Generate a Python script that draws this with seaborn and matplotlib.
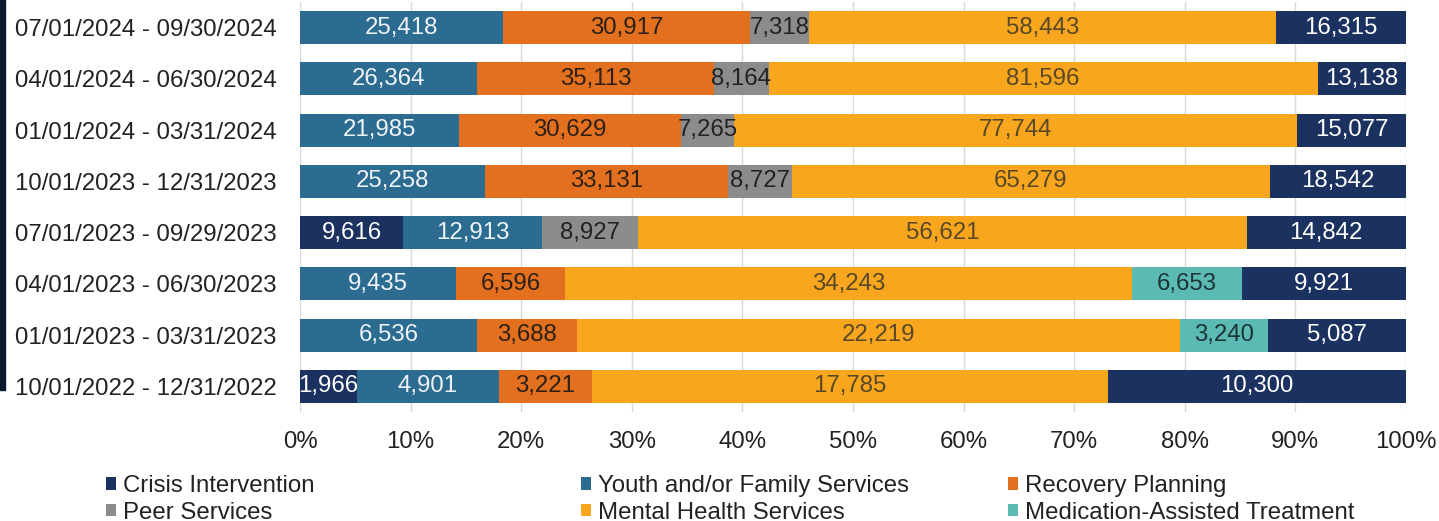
import numpy as np
import pandas as pd
import matplotlib
matplotlib.use("Agg")
import matplotlib.pyplot as plt
import seaborn as sns
from matplotlib.patches import Patch, Rectangle

# ---------------- data ----------------
periods = [
    "07/01/2024 - 09/30/2024",
    "04/01/2024 - 06/30/2024",
    "01/01/2024 - 03/31/2024",
    "10/01/2023 - 12/31/2023",
    "07/01/2023 - 09/29/2023",
    "04/01/2023 - 06/30/2023",
    "01/01/2023 - 03/31/2023",
    "10/01/2022 - 12/31/2022",
]
crisis_intervention = [0, 0, 0, 0, 9616, 0, 0, 1966]
youth_family = [25418, 26364, 21985, 25258, 12913, 9435, 6536, 4901]
recovery_planning = [30917, 35113, 30629, 33131, 0, 6596, 3688, 3221]
peer_services = [7318, 8164, 7265, 8727, 8927, 0, 0, 0]
mental_health = [58443, 81596, 77744, 65279, 56621, 34243, 22219, 17785]
mat_treatment = [0, 0, 0, 0, 0, 6653, 3240, 0]
other_services = [16315, 13138, 15077, 18542, 14842, 9921, 5087, 10300]

series_names = [
    "Crisis Intervention",
    "Youth and/or Family Services",
    "Recovery Planning",
    "Peer Services",
    "Mental Health Services",
    "Medication-Assisted Treatment",
    "Other",
]
tick_values = list(range(0, 101, 10))

# ---------------- styles ----------------
colors = ["#1b3160", "#2c6c90", "#e2701f", "#8c8c8c", "#f8a61e", "#5cbab5", "#1b3160"]
text_colors = ["#ffffff", "#eef3f7", "#2e2015", "#222222", "#5a4826", "#1d3434", "#ffffff"]
FS = 17.3

sns.set_theme(style="white")
plt.rcParams["font.family"] = ["Liberation Sans", "DejaVu Sans"]

df = pd.DataFrame({
    "period": periods,
    series_names[0]: crisis_intervention,
    series_names[1]: youth_family,
    series_names[2]: recovery_planning,
    series_names[3]: peer_services,
    series_names[4]: mental_health,
    series_names[5]: mat_treatment,
    series_names[6]: other_services,
})
vals = df[series_names].to_numpy(float)
totals = vals.sum(axis=1)
pct = vals / totals[:, None] * 100
cum = pct.cumsum(axis=1)

W, H = 1439, 521
fig = plt.figure(figsize=(W / 100, H / 100), dpi=100)
ax = fig.add_axes([300 / W, 1 - 412 / H, 1106 / W, 410 / H])

for k in reversed(range(len(series_names))):
    sns.barplot(x=cum[:, k], y=periods, order=periods, orient="h",
                color=colors[k], width=0.64, saturation=1, linewidth=0, ax=ax)

for i in range(len(periods)):
    for k in range(len(series_names)):
        v = vals[i, k]
        if v <= 0:
            continue
        cx = cum[i, k] - pct[i, k] / 2
        ax.text(cx, i, f"{int(v):,}", ha="center", va="center", fontsize=FS,
                color=text_colors[k], clip_on=True)

ax.set_xlim(0, 100)
ax.set_xticks(tick_values)
ax.set_xticklabels([f"{t}%" for t in tick_values], fontsize=FS, color="#222222")
ax.tick_params(axis="x", length=0, pad=14)
ax.tick_params(axis="y", length=0, pad=17, labelsize=FS, labelcolor="#222222")
ax.set_xlabel("")
ax.set_ylabel("")
for s in ax.spines.values():
    s.set_visible(False)
ax.set_axisbelow(True)
ax.xaxis.grid(True, color="#d9d9d9", linewidth=1)
ax.yaxis.grid(False)

# legends (three columns)
handles = [Patch(facecolor=colors[k], edgecolor="none") for k in range(6)]
col_groups = [(0, 3), (1, 4), (2, 5)]
col_x = [106, 581, 1008]
for (a, b), x in zip(col_groups, col_x):
    fig.legend([handles[a], handles[b]], [series_names[a], series_names[b]],
               loc="upper left", bbox_to_anchor=(x / W, 1 - 475 / H),
               frameon=False, fontsize=FS, handlelength=0.42, handleheight=0.42,
               handletextpad=0.3, labelspacing=0.2, borderpad=0, borderaxespad=0,
               labelcolor="#222222")

# dark left-edge stripe seen in the reference screenshot
fig.patches.append(Rectangle((0, 1 - 390 / H), 5 / W, 390 / H,
                             transform=fig.transFigure, color="#0b1a2e", zorder=10))

fig.savefig("out.png", dpi=100)
